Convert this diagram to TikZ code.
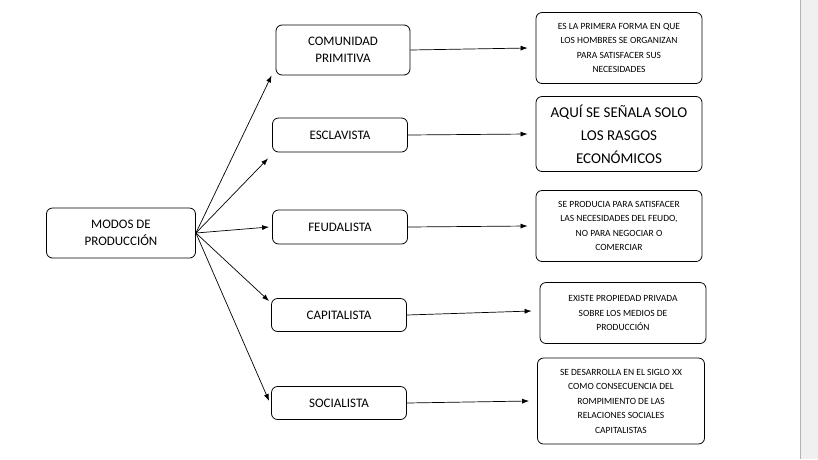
\documentclass[tikz,border=0pt]{standalone}
\usepackage{fontspec}
\setmainfont{Carlito}
\usetikzlibrary{arrows.meta}
\begin{document}
\begin{tikzpicture}[x=1pt,y=-1pt,
 box/.style={draw,rounded corners=6pt,align=center,line width=0.8pt,inner sep=2pt},
 mid/.style={box,font=\fontsize{13}{17}\selectfont},
 sm/.style={box,font=\fontsize{9.5}{14.5}\selectfont},
 arr/.style={-{Latex[length=7pt,width=5pt]},line width=0.7pt}]
\useasboundingbox (0,0) rectangle (818,459);
\fill[gray!12] (800,0) rectangle (818,459);
\draw[gray!60] (800.5,0) -- (800.5,459);
\node[mid,minimum width=149pt,minimum height=50pt] (m) at (121,233) {MODOS DE\\PRODUCCIÓN};
\node[mid,minimum width=134pt,minimum height=50pt] (a) at (343,50) {COMUNIDAD\\PRIMITIVA};
\node[mid,minimum width=135pt,minimum height=34pt] (b) at (340,135) {ESCLAVISTA};
\node[mid,minimum width=135pt,minimum height=34pt] (c) at (340,227) {FEUDALISTA};
\node[mid,minimum width=135pt,minimum height=33pt] (d) at (339,315) {CAPITALISTA};
\node[mid,minimum width=135pt,minimum height=33pt] (e) at (339,403) {SOCIALISTA};
\node[sm,minimum width=166pt,minimum height=71pt] (a2) at (619,48) {ES LA PRIMERA FORMA EN QUE\\LOS HOMBRES SE ORGANIZAN\\PARA SATISFACER SUS\\NECESIDADES};
\node[box,font=\fontsize{15}{23}\selectfont,minimum width=166pt,minimum height=75pt] (b2) at (619,134) {AQUÍ SE SEÑALA SOLO\\LOS RASGOS\\ECONÓMICOS};
\node[sm,minimum width=166pt,minimum height=71pt] (c2) at (619,226) {SE PRODUCIA PARA SATISFACER\\LAS NECESIDADES DEL FEUDO,\\NO PARA NEGOCIAR O\\COMERCIAR};
\node[sm,minimum width=166pt,minimum height=61pt] (d2) at (623,313) {EXISTE PROPIEDAD PRIVADA\\SOBRE LOS MEDIOS DE\\PRODUCCIÓN};
\node[sm,minimum width=167pt,minimum height=86pt] (e2) at (621,401) {SE DESARROLLA EN EL SIGLO XX\\COMO CONSECUENCIA DEL\\ROMPIMIENTO DE LAS\\RELACIONES SOCIALES\\CAPITALISTAS};
\coordinate (s) at (m.east);
\draw[arr] (s) -- ([xshift=-4pt]a.south west);
\draw[arr] (s) -- ([xshift=-4pt,yshift=-6pt]b.south west);
\draw[arr] (s) -- ([xshift=-3pt]c.west);
\draw[arr] (s) -- ([xshift=-2pt,yshift=-3pt]d.north west);
\draw[arr] (s) -- ([xshift=-2pt,yshift=2pt]e.west);
\draw[arr] (a.east) -- ([xshift=-8pt]a2.west);
\draw[arr] (b.east) -- ([xshift=-8pt]b2.west);
\draw[arr] (c.east) -- ([xshift=-8pt]c2.west);
\draw[arr] (d.east) -- ([xshift=-8pt,yshift=2pt]d2.west);
\draw[arr] (e.east) -- ([xshift=-8pt]e2.west);
\end{tikzpicture}
\end{document}
